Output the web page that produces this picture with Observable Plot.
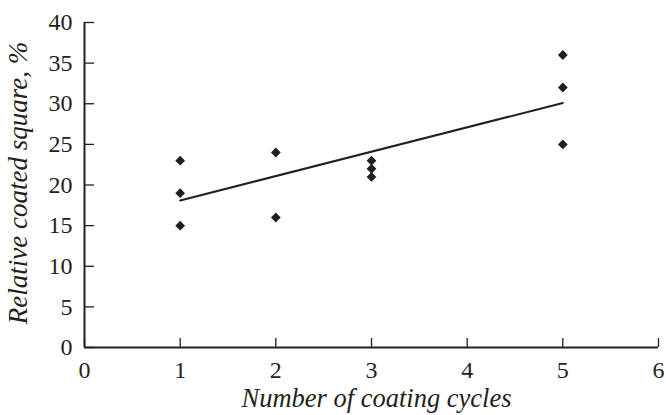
<!DOCTYPE html>
<html><head><meta charset="utf-8">
<script src="https://cdn.jsdelivr.net/npm/d3@7"></script>
<script src="https://cdn.jsdelivr.net/npm/@observablehq/plot@0.6"></script>
<style>
html,body{margin:0;padding:0;background:#fff}
</style></head><body><div id="chart"></div>
<script>
const cycles = [1, 1, 1, 2, 2, 3, 3, 3, 5, 5, 5];
const coated = [23, 19, 15, 24, 16, 23, 22, 21, 36, 32, 25];
const trendX = [1, 5];
const trendY = [18.1, 30.1];
const xTicks = [0, 1, 2, 3, 4, 5, 6];
const yTicks = [0, 5, 10, 15, 20, 25, 30, 35, 40];
const xTitle = "Number of coating cycles";
const yTitle = "Relative coated square, %";

const points = cycles.map((c, i) => ({x: c, y: coated[i]}));
const trend = trendX.map((x, i) => ({x, y: trendY[i]}));
const ink = "#231f20";

const chart = Plot.plot({
  width: 666, height: 415,
  marginLeft: 84, marginRight: 8, marginTop: 22, marginBottom: 68,
  style: {fontFamily: "'Liberation Serif', 'Times New Roman', serif", fontSize: "23px", color: ink, background: "#fff"},
  x: {domain: [xTicks[0], xTicks[xTicks.length - 1]]},
  y: {domain: [yTicks[0], yTicks[yTicks.length - 1]]},
  marks: [
    Plot.axisX({ticks: xTicks, tickFormat: d => String(d), tickSize: -9, tickPadding: 22, label: null, strokeWidth: 1.3, fontSize: 24}),
    Plot.axisY({ticks: yTicks, tickFormat: d => String(d), tickSize: -10, tickPadding: 22, label: null, strokeWidth: 1.3, fontSize: 24}),
    Plot.ruleX([xTicks[0]], {stroke: ink, strokeWidth: 2}),
    Plot.ruleY([yTicks[0]], {stroke: ink, strokeWidth: 2}),
    Plot.line(trend, {x: "x", y: "y", stroke: ink, strokeWidth: 2}),
    Plot.dot(points, {x: "x", y: "y", symbol: "diamond2", r: 4.4, fill: ink, stroke: "none"}),
    Plot.text([xTitle], {frameAnchor: "bottom", textAnchor: "middle", dx: 5, dy: 59, fontStyle: "italic", fontSize: 26.5, fill: ink}),
    Plot.text([yTitle], {frameAnchor: "left", textAnchor: "middle", rotate: -90, dx: -66, dy: -2, fontStyle: "italic", fontSize: 27, fill: ink})
  ]
});
document.getElementById("chart").append(chart);
</script>
</body></html>
